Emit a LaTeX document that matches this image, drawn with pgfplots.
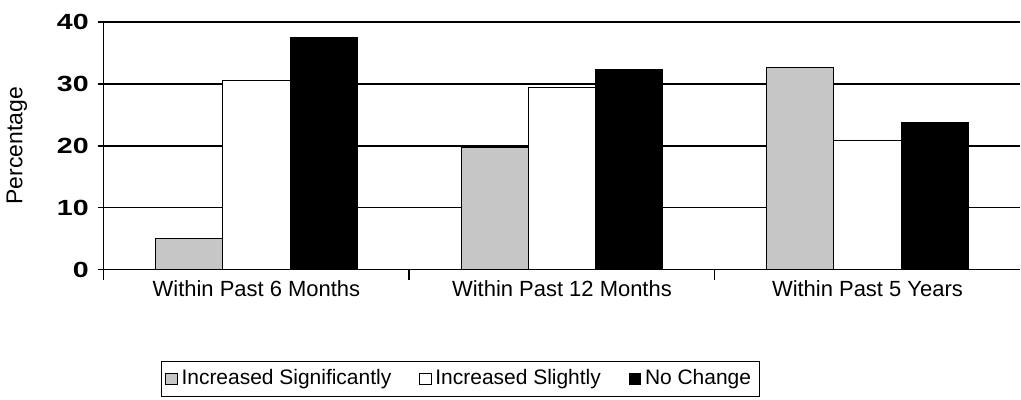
\documentclass[border=0pt]{standalone}
\usepackage{fontspec}
\setmainfont{Liberation Sans}
\usepackage{graphicx}
\usepackage{pgfplots}
\pgfplotsset{compat=1.18}
\begin{document}
\begin{tikzpicture}
\begin{axis}[
    scale only axis,
    width=459pt,
    height=124pt,
    ybar=0pt,
    bar width=0.22,
    xmin=-0.5, xmax=2.5,
    ymin=0, ymax=40,
    xtick={0,1,2},
    xticklabels={Within Past 6 Months, Within Past 12 Months, Within Past 5 Years},
    xtick style={draw=none},
    extra x ticks={-0.5,0.5,1.5},
    extra x tick labels={},
    extra x tick style={xtick style={draw=black, thick}, major tick length=5pt, tick align=outside},
    ytick={0,10,20,30,40},
    ytick style={draw=black, thick},
    major tick length=3pt,
    tick align=outside,
    ymajorgrids,
    grid style={black, thick},
    axis x line*=bottom,
    axis y line*=left,
    axis line style={black, thick},
    yticklabel={\scalebox{1.3}[1]{\bfseries\fontsize{11}{13}\selectfont\pgfmathprintnumber[assume math mode=true]{\tick}}},
    yticklabel style={xshift=-1pt},
    xticklabel style={font=\fontsize{11}{13}\selectfont, yshift=1pt},
    ylabel={Percentage},
    ylabel style={font=\fontsize{11.5}{13}\selectfont, yshift=8pt},
    legend style={at={(0.389,-0.371)}, anchor=north, legend columns=3,
        draw=black, font=\fontsize{10.5}{12}\selectfont,
        /tikz/every even column/.append style={column sep=12pt},
        inner sep=2pt},
    legend image code/.code={\draw[#1, draw=black] (0cm,-0.1cm) rectangle (0.2cm,0.1cm);},
]
\addplot[fill=gray!45, draw=black] coordinates {(0,5.0) (1,19.7) (2,32.7)};
\addplot[fill=white, draw=black] coordinates {(0,30.5) (1,29.4) (2,20.8)};
\addplot[fill=black, draw=black] coordinates {(0,37.5) (1,32.4) (2,23.7)};
\legend{Increased Significantly, Increased Slightly, No Change}
\end{axis}
\path ([yshift=11pt]current axis.north);
\path ([yshift=-65pt]current axis.south);
\end{tikzpicture}
\end{document}
